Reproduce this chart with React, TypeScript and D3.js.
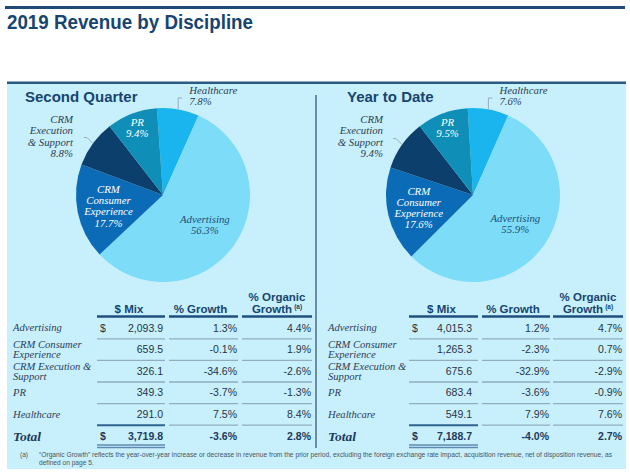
import React from "react";
import * as d3 from "d3";

// ---------- data ----------
const categories = ["Advertising", "CRM Consumer Experience", "CRM Execution & Support", "PR", "Healthcare"];
const rowLabelLines = [["Advertising"], ["CRM Consumer", "Experience"], ["CRM Execution &", "Support"], ["PR"], ["Healthcare"]];
const pieLabelLines = [["Advertising"], ["CRM", "Consumer", "Experience"], ["CRM", "Execution", "& Support"], ["PR"], ["Healthcare"]];
const pieOrder = ["Healthcare", "Advertising", "CRM Consumer Experience", "CRM Execution & Support", "PR"];

const qtrShare = [56.3, 17.7, 8.8, 9.4, 7.8];
const qtrMix = [2093.9, 659.5, 326.1, 349.3, 291.0];
const qtrGrowth = [1.3, -0.1, -34.6, -3.7, 7.5];
const qtrOrganic = [4.4, 1.9, -2.6, -1.3, 8.4];
const qtrTotal = [3719.8, -3.6, 2.8];

const ytdShare = [55.9, 17.6, 9.4, 9.5, 7.6];
const ytdMix = [4015.3, 1265.3, 675.6, 683.4, 549.1];
const ytdGrowth = [1.2, -2.3, -32.9, -3.6, 7.9];
const ytdOrganic = [4.7, 0.7, -2.9, -0.9, 7.6];
const ytdTotal = [7188.7, -4.0, 2.7];

const title = "2019 Revenue by Discipline";
const panelTitles = ["Second Quarter", "Year to Date"];
const footnote =
  "\u201cOrganic Growth\u201d reflects the year-over-year increase or decrease in revenue from the prior period, excluding the foreign exchange rate impact, acquisition revenue, net of disposition revenue, as";
const footnote2 = "defined on page 5.";

// ---------- styles ----------
const SANS = "'Liberation Sans', Arial, Helvetica, sans-serif";
const SERIF = "'Liberation Serif', 'Times New Roman', serif";
const NAVY = "#17456f";
const BG = "#c8f0fc";

const sliceColor: Record<string, string> = {
  Advertising: "#7ddcf8",
  "CRM Consumer Experience": "#0b6bb6",
  "CRM Execution & Support": "#0c3f6c",
  PR: "#0f8eb8",
  Healthcare: "#1ab4ee",
};
const labelKind: Record<string, { kind: string; rf?: number; color?: string }> = {
  Advertising: { kind: "in", rf: 0.59, color: "#1d4f7a" },
  "CRM Consumer Experience": { kind: "in", rf: 0.64, color: "#ffffff" },
  "CRM Execution & Support": { kind: "left" },
  PR: { kind: "in", rf: 0.83, color: "#ffffff" },
  Healthcare: { kind: "top" },
};

const locale = d3.formatLocale({ decimal: ".", thousands: ",", grouping: [3], currency: ["$", ""], minus: "-" });
const fmtMix = locale.format(",.1f");
const fmtPct = (v: number) => locale.format(".1f")(v) + "%";

const pt = (a: number, rad: number) => [rad * Math.sin(a), -rad * Math.cos(a)];

function Pie({ cx, cy, r, shares, start }: { cx: number; cy: number; r: number; shares: number[]; start: number }) {
  const data = pieOrder.map((name) => ({ name, value: shares[categories.indexOf(name)] }));
  const arcs = d3
    .pie<{ name: string; value: number }>()
    .sort(null)
    .value((d) => d.value)
    .startAngle(start)
    .endAngle(start + 2 * Math.PI)(data);
  const arcGen = d3.arc<any>().innerRadius(0).outerRadius(r);
  const lh = 11.3;
  return (
    <g transform={`translate(${cx},${cy})`}>
      {arcs.map((a) => (
        <path key={a.data.name} d={arcGen(a) as string} fill={sliceColor[a.data.name]} />
      ))}
      {arcs.map((a) => {
        const name = a.data.name;
        const idx = categories.indexOf(name);
        const lines = [...pieLabelLines[idx], fmtPct(a.data.value)];
        const mid = (a.startAngle + a.endAngle) / 2;
        const cfg = labelKind[name];
        const style = { fontFamily: SERIF, fontStyle: "italic", fontSize: 10.8 } as const;
        if (cfg.kind === "in") {
          const [lx, ly] = pt(mid, r * (cfg.rf as number));
          const y0 = ly - ((lines.length - 1) * lh) / 2;
          return (
            <text key={name} textAnchor="middle" fill={cfg.color} style={style}>
              {lines.map((l, i) => (
                <tspan key={i} x={lx} y={y0 + i * lh} dy="0.35em">
                  {l}
                </tspan>
              ))}
            </text>
          );
        }
        const [ex, ey] = pt(mid, r);
        if (cfg.kind === "top") {
          const topY = -r - 10;
          return (
            <g key={name}>
              <polyline points={`${ex},${ey} ${ex},${topY} ${ex + 4},${topY}`} fill="none" stroke="#8c9cab" strokeWidth={0.8} />
              <text fill="#2b3f57" style={style}>
                {lines.map((l, i) => (
                  <tspan key={i} x={ex + 11} y={-r - 14 + i * lh}>
                    {l}
                  </tspan>
                ))}
              </text>
            </g>
          );
        }
        const rx = -r - 3;
        return (
          <g key={name}>
            <polyline points={`${ex},${ey} ${ex - 6},${ey - 6} ${ex - 9},${ey - 6}`} fill="none" stroke="#8c9cab" strokeWidth={0.8} />
            <text fill="#2b3f57" textAnchor="end" style={style}>
              {lines.map((l, i) => (
                <tspan key={i} x={rx} y={-72 + i * lh}>
                  {l}
                </tspan>
              ))}
            </text>
          </g>
        );
      })}
    </g>
  );
}

type Layout = {
  labelX: number;
  dollarX: number;
  cols: number[][];
  rightPad: number[];
};

function Table({ lay, mix, growth, organic, total }: { lay: Layout; mix: number[]; growth: number[]; organic: number[]; total: number[] }) {
  const y = d3.scaleLinear().domain([0, 5]).range([328, 436]);
  const half = (y(1) - y(0)) / 2;
  const valueRight = lay.cols.map((c, i) => c[1] - lay.rightPad[i]);
  const centers = lay.cols.map((c) => (c[0] + c[1]) / 2);
  const valStyle = { fontFamily: SANS, fontSize: 10.5 } as const;
  const hdrStyle = { fontFamily: SANS, fontSize: 11.5, fontWeight: 700 } as const;
  const rows = categories.map((c, i) => [mix[i], growth[i], organic[i]]);
  return (
    <g>
      <text x={centers[0] - 2} y={313} textAnchor="middle" fill={NAVY} style={hdrStyle}>$ Mix</text>
      <text x={centers[1] - 3} y={313} textAnchor="middle" fill={NAVY} style={hdrStyle}>% Growth</text>
      <text x={centers[2]} y={301} textAnchor="middle" fill={NAVY} style={hdrStyle}>% Organic</text>
      <text x={centers[2]} y={313} textAnchor="middle" fill={NAVY} style={hdrStyle}>
        Growth<tspan dx={2} dy={-4} style={{ fontSize: 6.5 }}>(a)</tspan>
      </text>
      {lay.cols.map((c, i) => (
        <line key={"h" + i} x1={c[0]} x2={c[1]} y1={316.5} y2={316.5} stroke="#1f4f7e" strokeWidth={2.4} />
      ))}
      {rows.map((vals, i) => {
        const cy = y(i);
        const lines = rowLabelLines[i];
        return (
          <g key={categories[i]}>
            <text fill="#2d4058" style={{ fontFamily: SERIF, fontStyle: "italic", fontSize: 10.6 }}>
              {lines.map((l, k) => (
                <tspan key={k} x={lay.labelX} y={cy + (k - (lines.length - 1) / 2) * 10} dy="0.33em">
                  {l}
                </tspan>
              ))}
            </text>
            {i === 0 && (
              <text x={lay.dollarX} y={cy} dy="0.35em" fill="#263445" style={valStyle}>$</text>
            )}
            <text x={valueRight[0]} y={cy} dy="0.35em" textAnchor="end" fill="#263445" style={valStyle}>{fmtMix(vals[0])}</text>
            <text x={valueRight[1]} y={cy} dy="0.35em" textAnchor="end" fill="#263445" style={valStyle}>{fmtPct(vals[1])}</text>
            <text x={valueRight[2]} y={cy} dy="0.35em" textAnchor="end" fill="#263445" style={valStyle}>{fmtPct(vals[2])}</text>
            {lay.cols.map((c, j) => {
              const last = i === rows.length - 1;
              const dark = last && j === 0;
              return (
                <line
                  key={j}
                  x1={c[0]}
                  x2={c[1]}
                  y1={cy + half}
                  y2={cy + half}
                  stroke={dark ? "#2f6390" : "#93adc0"}
                  strokeWidth={dark ? 2 : 1.3}
                />
              );
            })}
          </g>
        );
      })}
      <g>
        <text x={lay.labelX} y={y(5)} dy="0.35em" fill="#1b3a5c" style={{ fontFamily: SERIF, fontStyle: "italic", fontWeight: 700, fontSize: 13.5 }}>
          Total
        </text>
        <text x={lay.dollarX} y={y(5)} dy="0.35em" fill="#1b3a5c" style={{ ...valStyle, fontWeight: 700 }}>$</text>
        <text x={valueRight[0]} y={y(5)} dy="0.35em" textAnchor="end" fill="#1b3a5c" style={{ ...valStyle, fontWeight: 700 }}>{fmtMix(total[0])}</text>
        <text x={valueRight[1]} y={y(5)} dy="0.35em" textAnchor="end" fill="#1b3a5c" style={{ ...valStyle, fontWeight: 700 }}>{fmtPct(total[1])}</text>
        <text x={valueRight[2]} y={y(5)} dy="0.35em" textAnchor="end" fill="#1b3a5c" style={{ ...valStyle, fontWeight: 700 }}>{fmtPct(total[2])}</text>
        <line x1={lay.cols[0][0]} x2={lay.cols[0][1]} y1={y(5) + 9} y2={y(5) + 9} stroke="#5f8bb0" strokeWidth={1.4} />
        <line x1={lay.cols[0][0]} x2={lay.cols[0][1]} y1={y(5) + 11.5} y2={y(5) + 11.5} stroke="#5f8bb0" strokeWidth={1.4} />
      </g>
    </g>
  );
}

const leftLayout: Layout = {
  labelX: 13,
  dollarX: 100,
  cols: [[97, 165], [169, 238], [242, 312]],
  rightPad: [2, 1, 1],
};
const rightLayout: Layout = {
  labelX: 328,
  dollarX: 412,
  cols: [[409, 478], [482, 550], [553, 623]],
  rightPad: [6, 1, 1],
};

export default function App() {
  const deg = Math.PI / 180;
  return (
    <svg width={630} height={474} style={{ position: "absolute", left: 0, top: 0, display: "block", background: "#ffffff" }}>
      <rect x={5} y={6} width={620} height={3} fill="#1e4a75" />
      <text x={7} y={29} fill={NAVY} textLength={246} lengthAdjust="spacingAndGlyphs" style={{ fontFamily: SANS, fontWeight: 700, fontSize: 20 }}>
        {title}
      </text>
      <rect x={7} y={83} width={619} height={386} fill={BG} />
      <rect x={7} y={81.5} width={619} height={2.5} fill="#2b5a85" />
      <line x1={316} x2={316} y1={95} y2={448} stroke="#2a4a6a" strokeWidth={1.2} />

      <text x={25} y={102} fill={NAVY} style={{ fontFamily: SANS, fontWeight: 700, fontSize: 15 }}>{panelTitles[0]}</text>
      <text x={347} y={102} fill={NAVY} style={{ fontFamily: SANS, fontWeight: 700, fontSize: 15 }}>{panelTitles[1]}</text>

      <Pie cx={163} cy={195} r={87} shares={qtrShare} start={-4 * deg} />
      <Pie cx={473} cy={195} r={87} shares={ytdShare} start={-3.5 * deg} />

      <Table lay={leftLayout} mix={qtrMix} growth={qtrGrowth} organic={qtrOrganic} total={qtrTotal} />
      <Table lay={rightLayout} mix={ytdMix} growth={ytdGrowth} organic={ytdOrganic} total={ytdTotal} />

      <text x={20} y={457} fill="#4a5560" style={{ fontFamily: SANS, fontSize: 6.6 }}>(a)</text>
      <text x={39} y={457} fill="#4a5560" textLength={573} lengthAdjust="spacingAndGlyphs" style={{ fontFamily: SANS, fontSize: 6.6 }}>
        {footnote}
      </text>
      <text x={39} y={465} fill="#4a5560" style={{ fontFamily: SANS, fontSize: 6.6 }}>{footnote2}</text>
    </svg>
  );
}
